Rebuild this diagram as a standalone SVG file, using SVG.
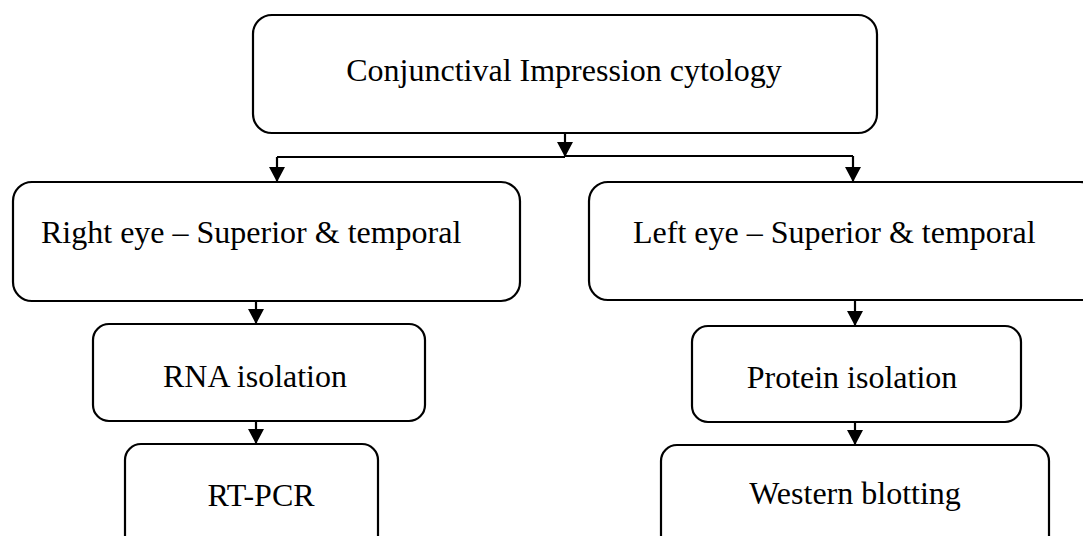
<svg xmlns="http://www.w3.org/2000/svg" width="1083" height="536" viewBox="0 0 1083 536">
<defs>
<marker id="ah" viewBox="0 0 15 16" refX="15" refY="8" markerWidth="15" markerHeight="16" markerUnits="userSpaceOnUse" orient="auto">
<path d="M0,0 L15,8 L0,16 Z" fill="#000"/>
</marker>
<style>
.box{fill:#fff;stroke:#000;stroke-width:2.2}
.t{font-family:"Liberation Serif","Times New Roman",serif;font-size:32px;fill:#000}
.c{fill:none;stroke:#000;stroke-width:2.2}
</style>
</defs>
<rect width="1083" height="536" fill="#fff"/>
<g id="n-top"><rect class="box" x="253" y="15" width="624" height="118" rx="19"/><text class="t" x="564" y="81" text-anchor="middle">Conjunctival Impression cytology</text></g>
<g id="n-right-eye"><rect class="box" x="13" y="182" width="507" height="119" rx="19"/><text class="t" x="41" y="243">Right eye – Superior &amp; temporal</text></g>
<g id="n-left-eye"><rect class="box" x="589" y="182" width="510" height="118" rx="19"/><text class="t" x="633" y="243">Left eye – Superior &amp; temporal</text></g>
<g id="n-rna"><rect class="box" x="93" y="324" width="332" height="97" rx="16"/><text class="t" x="255" y="387" text-anchor="middle">RNA isolation</text></g>
<g id="n-protein"><rect class="box" x="692" y="326" width="329" height="96" rx="16"/><text class="t" x="852" y="388" text-anchor="middle">Protein isolation</text></g>
<g id="n-rtpcr"><rect class="box" x="125" y="444" width="253" height="110" rx="16"/><text class="t" x="261" y="506" text-anchor="middle">RT-PCR</text></g>
<g id="n-western"><rect class="box" x="661" y="445" width="388" height="110" rx="16"/><text class="t" x="855" y="504" text-anchor="middle">Western blotting</text></g>
<g id="connectors">
<path class="c" d="M565,133 V157" marker-end="url(#ah)"/>
<path class="c" d="M277,157 H565 M565,156 H853"/>
<path class="c" d="M277,157 V182" marker-end="url(#ah)"/>
<path class="c" d="M853,156 V182" marker-end="url(#ah)"/>
<path class="c" d="M256,301 V324" marker-end="url(#ah)"/>
<path class="c" d="M256,421 V444" marker-end="url(#ah)"/>
<path class="c" d="M855,300 V326" marker-end="url(#ah)"/>
<path class="c" d="M855,422 V445" marker-end="url(#ah)"/>
</g>
</svg>
